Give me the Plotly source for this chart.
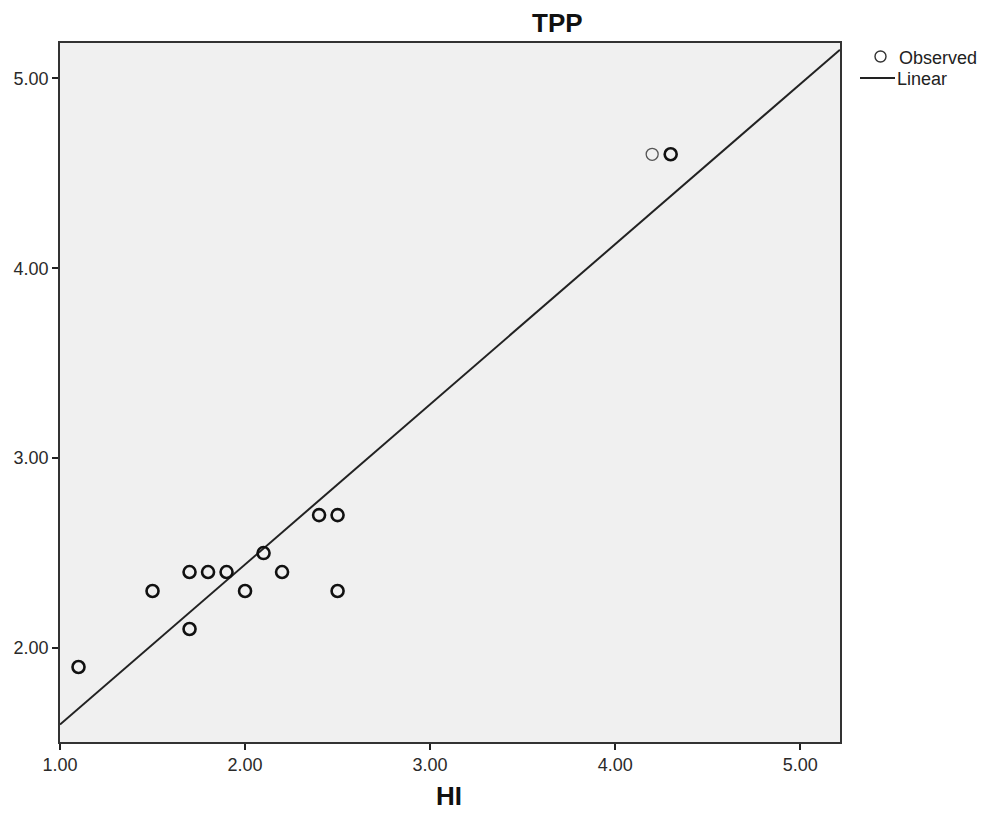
import numpy as np
import plotly.graph_objects as go
from collections import Counter

# Observed cases (HI, TPP); repeated pairs are cases that coincide in the plot
hi = [1.1, 1.1, 1.5, 1.5, 1.7, 1.7, 1.7, 1.7, 1.8, 1.8, 1.9, 1.9, 2.0, 2.0,
      2.1, 2.1, 2.2, 2.2, 2.4, 2.4, 2.5, 2.5, 2.5, 2.5, 4.2, 4.3, 4.3]
tpp = [1.9, 1.9, 2.3, 2.3, 2.4, 2.4, 2.1, 2.1, 2.4, 2.4, 2.4, 2.4, 2.3, 2.3,
       2.5, 2.5, 2.4, 2.4, 2.7, 2.7, 2.7, 2.7, 2.3, 2.3, 4.6, 4.6, 4.6]

x_ticks = [1.0, 2.0, 3.0, 4.0, 5.0]
y_ticks = [2.0, 3.0, 4.0, 5.0]
x_range = [1.0, 5.215]
y_range = [1.505, 5.186]

# linear fit
slope, intercept = np.polyfit(hi, tpp, 1)
line_x = np.array(x_range)
line_y = intercept + slope * line_x

counts = Counter(zip(hi, tpp))
ux = [p[0] for p in counts]
uy = [p[1] for p in counts]
widths = [2.6 if c > 1 else 1.3 for c in counts.values()]
colors = ["#111111" if c > 1 else "#555555" for c in counts.values()]

fig = go.Figure()
fig.add_trace(go.Scatter(
    x=line_x, y=line_y, mode="lines",
    line=dict(color="#222222", width=2), showlegend=False, hoverinfo="skip"))
fig.add_trace(go.Scatter(
    x=ux, y=uy, mode="markers",
    marker=dict(symbol="circle-open", size=12, color=colors,
                line=dict(width=widths, color=colors)),
    showlegend=False))

font = "Liberation Sans, Arial, sans-serif"
axis_style = dict(showgrid=False, zeroline=False, showline=True, mirror=True,
                  linecolor="#333333", linewidth=1.5, ticks="outside",
                  ticklen=6, tickcolor="#222222", tickwidth=1.5,
                  automargin=False,
                  tickformat=".2f", tickfont=dict(size=18, color="#2a2a2a"))
fig.update_layout(
    width=979, height=803,
    margin=dict(l=52, r=147, t=35, b=69),
    paper_bgcolor="white", plot_bgcolor="#f0f0f0",
    font=dict(family=font, size=18, color="#222222"),
    xaxis=dict(range=x_range, tickvals=x_ticks, **axis_style),
    yaxis=dict(range=y_range, tickvals=y_ticks, **axis_style),
    annotations=[
        dict(text="<b>TPP</b>", x=0.638, y=1.0, xref="paper", yref="paper",
             yshift=20, yanchor="middle", showarrow=False,
             font=dict(size=26, color="#111111")),
        dict(text="<b>HI</b>", x=0.4987, y=0.0, xref="paper", yref="paper",
             yshift=-54, yanchor="middle", showarrow=False,
             font=dict(size=26, color="#111111")),
        dict(text="Observed", x=1.0, y=1.0, xref="paper", yref="paper",
             xshift=57, yshift=-15, xanchor="left", yanchor="middle",
             showarrow=False, font=dict(size=18, color="#222222")),
        dict(text="Linear", x=1.0, y=1.0, xref="paper", yref="paper",
             xshift=55, yshift=-36, xanchor="left", yanchor="middle",
             showarrow=False, font=dict(size=18, color="#222222")),
    ],
)
# Legend symbols: pixel-sized shapes anchored to the plot's top-right corner
fig.add_shape(type="circle", xref="paper", yref="paper",
              xsizemode="pixel", ysizemode="pixel",
              xanchor=1.0, yanchor=1.0,
              x0=35, x1=46, y0=-8, y1=-19,
              line=dict(color="#333333", width=1.4), fillcolor="rgba(0,0,0,0)")
fig.add_shape(type="line", xref="paper", yref="paper",
              xsizemode="pixel", ysizemode="pixel",
              xanchor=1.0, yanchor=1.0,
              x0=20, x1=55, y0=-35, y1=-35,
              line=dict(color="#222222", width=2))

fig.write_html("out.html")
